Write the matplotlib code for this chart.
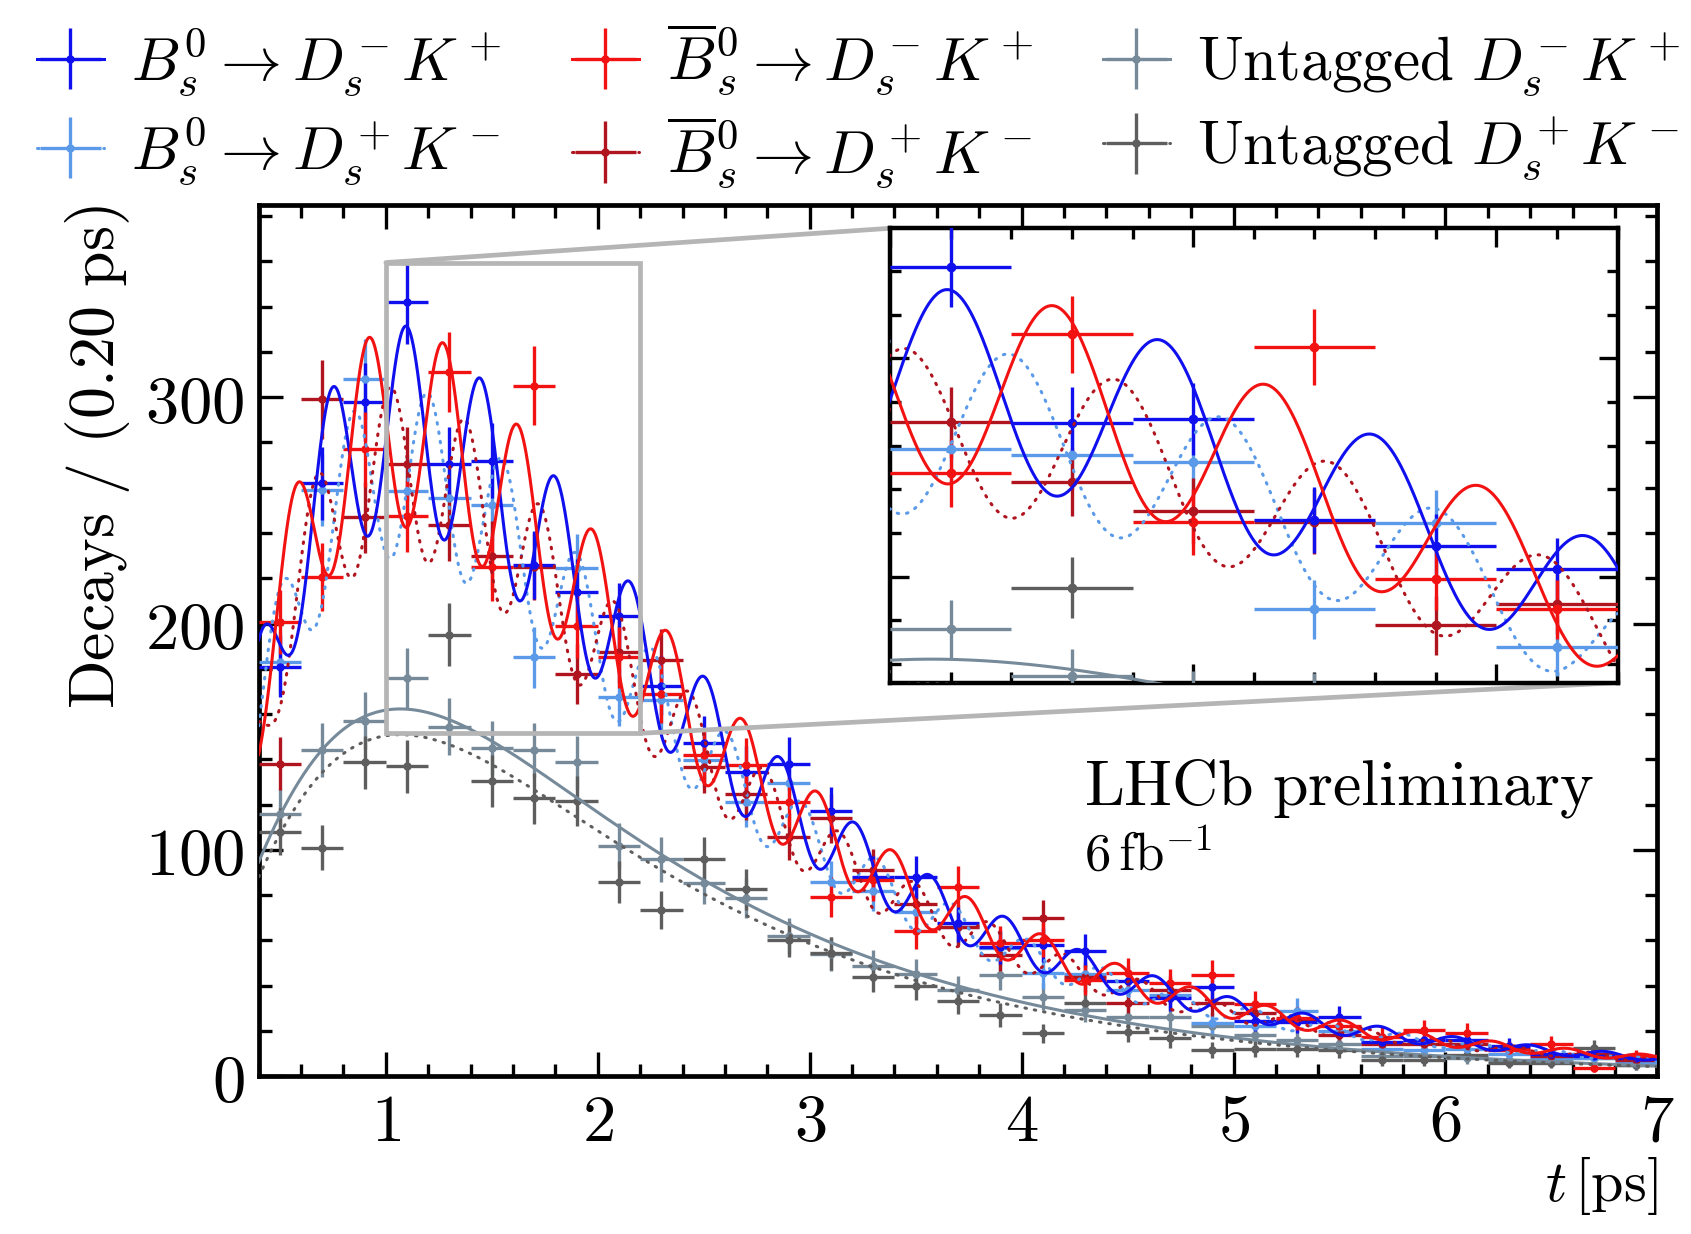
import numpy as np
import matplotlib
matplotlib.use("Agg")
import matplotlib.pyplot as plt
from matplotlib.ticker import MultipleLocator, FuncFormatter
from matplotlib.patches import Rectangle, ConnectionPatch

plt.rcParams['mathtext.fontset'] = 'cm'
plt.rcParams['font.family'] = ['DejaVu Serif']

# ---------------- data ----------------
t_centers = [0.5, 0.7, 0.9, 1.1, 1.3, 1.5, 1.7, 1.9, 2.1, 2.3, 2.5, 2.7, 2.9, 3.1, 3.3, 3.5, 3.7,
             3.9, 4.1, 4.3, 4.5, 4.7, 4.9, 5.1, 5.3, 5.5, 5.7, 5.9, 6.1, 6.3, 6.5, 6.7, 6.9]
bin_half_width = 0.1

bs_dmkp = [181, 262, 298, 342, 270.5, 272, 226, 214, 203.5, 172.5, 147, 134.5, 138, 117, 88, 88, 67.5,
           57, 58, 55.5, 42, 34.5, 39.5, 24.5, 24, 26, 15, 16, 16, 13.3, 10, 9, 8]
bs_dpkm = [183, 259, 308, 258.5, 255.5, 252.4, 185, 224.5, 167.6, 166, 139.7, 121.3, 129.4, 86, 82, 72.5, 66,
           56.5, 45.4, 45, 38, 36, 23.4, 22, 29, 20, 12, 11.6, 12, 10, 8, 8, 6]
bsbar_dmkp = [200.5, 220.6, 277, 247.5, 311, 225, 305, 199, 185, 169, 142, 137.5, 121.3, 79.3, 86.7, 64, 83.7,
              58.7, 60.2, 42.5, 45.4, 41, 44.7, 32, 25.6, 22, 17.4, 20.4, 19.2, 11.6, 14.2, 3.5, 8.8]
bsbar_dpkm = [138, 299, 247, 270.6, 243.4, 230, 225.2, 177.7, 187.4, 184, 136.7, 124.5, 105.8, 113.9, 91, 76, 66,
              53.5, 69.7, 44, 32.2, 38, 32.2, 28, 25, 18, 14, 14, 14, 12, 9, 10, 7]
untag_dmkp = [116, 144, 157, 176, 154.5, 145, 144, 138.7, 101.7, 95.8, 85.5, 78.6, 62, 54, 48.7, 45, 38,
              44.7, 35.1, 29.2, 26.3, 26.3, 22, 18, 16, 14, 9, 9, 8, 7.2, 6.5, 8, 5]
untag_dpkm = [108, 101, 138.6, 137, 195, 130.5, 122.7, 121.5, 86, 73.4, 95.8, 82.5, 60.2, 54.3, 44, 40, 33.4,
              27, 18.9, 32.2, 19.7, 16.7, 11.6, 12, 12, 11.6, 7, 7.2, 9.4, 6, 6, 12.6, 5]

x_ticks = [1, 2, 3, 4, 5, 6, 7]
y_ticks = [0, 100, 200, 300]

# fit-model parameters
TAU = 1.52          # ps
DM = 17.77          # ps^-1
ACC_T0 = 0.901
ACC_POWER = 1.42
NORM_UNTAG = 455.0
NORM_TAG = 805.0
RATIO_DPKM = 0.93
AMP_DMKP = 0.155
AMP_DPKM = 0.142
PHASE_DMKP = 0.61
PHASE_DPKM = 2.44

# ---------------- styles ----------------
C_BLUE = '#1010ee'
C_LBLUE = '#5a9ae8'
C_RED = '#f21212'
C_DRED = '#b0141e'
C_SLATE = '#768a9a'
C_DGRAY = '#5e5e5e'
FS = 46


def acceptance(t):
    return 1.0 - np.exp(-(t / ACC_T0) ** ACC_POWER)


def decay_model(t, norm, amp, phase):
    return norm * acceptance(t) * np.exp(-t / TAU) * (1.0 + amp * np.cos(DM * t - phase))


series = [
    # label, data, color, linestyle, norm, amp, phase
    (r"$B_s^0 \rightarrow D_s^- K^+$", bs_dmkp, C_BLUE, '-', NORM_TAG, AMP_DMKP, PHASE_DMKP),
    (r"$B_s^0 \rightarrow D_s^+ K^-$", bs_dpkm, C_LBLUE, ':', NORM_TAG * RATIO_DPKM, AMP_DPKM, PHASE_DPKM),
    (r"$\overline{B}_s^0 \rightarrow D_s^- K^+$", bsbar_dmkp, C_RED, '-', NORM_TAG, AMP_DMKP, PHASE_DMKP + np.pi),
    (r"$\overline{B}_s^0 \rightarrow D_s^+ K^-$", bsbar_dpkm, C_DRED, ':', NORM_TAG * RATIO_DPKM, AMP_DPKM, PHASE_DPKM + np.pi),
    (r"$\mathrm{Untagged}\ D_s^- K^+$", untag_dmkp, C_SLATE, '-', NORM_UNTAG, 0.0, 0.0),
    (r"$\mathrm{Untagged}\ D_s^+ K^-$", untag_dpkm, C_DGRAY, ':', NORM_UNTAG * RATIO_DPKM, 0.0, 0.0),
]
draw_order = [4, 5, 1, 3, 0, 2]

fig = plt.figure(figsize=(16.91, 12.34), dpi=100)
ax = fig.add_axes([0.1530, 0.1279, 0.8271, 0.7061])
axins = fig.add_axes([0.5263, 0.4468, 0.4303, 0.3682])

t_fine = np.linspace(0.4, 7.0, 3000)
handles = {}
for axis, ms in ((ax, 5), (axins, 6)):
    for i in draw_order:
        label, data, color, ls, norm, amp, phase = series[i]
        y = np.asarray(data, dtype=float)
        eb = axis.errorbar(t_centers, y, xerr=bin_half_width, yerr=np.sqrt(y), fmt='o', ms=ms,
                           color=color, ecolor=color, elinewidth=2.4, capsize=0, zorder=3)
        line, = axis.plot(t_fine, decay_model(t_fine, norm, amp, phase), color=color,
                          ls=ls, lw=2.2, zorder=4, dash_capstyle='round')
        if ls == ':':
            line.set_dashes((0.5, 2.6))
        if axis is ax:
            handles[i] = (line, eb)

fmt = FuncFormatter(lambda v, p: f"${v:g}$")

ax.set_xlim(0.4, 7.0)
ax.set_ylim(0, 385)
ax.set_xticks(x_ticks)
ax.set_yticks(y_ticks)
ax.xaxis.set_minor_locator(MultipleLocator(0.2))
ax.yaxis.set_minor_locator(MultipleLocator(20))
ax.xaxis.set_major_formatter(fmt)
ax.yaxis.set_major_formatter(fmt)
ax.tick_params(which='both', direction='in', top=True, right=True, width=2.4, labelsize=FS + 2)
ax.tick_params(which='major', length=17, pad=10)
ax.tick_params(which='minor', length=9)
for sp in ax.spines.values():
    sp.set_linewidth(3.4)

ax.set_xlabel(r"$t\,\mathrm{[ps]}$", fontsize=42, loc='right', labelpad=0)
ax.set_ylabel(r"$\mathrm{Decays\ /\ (0.20\ ps)}$", fontsize=FS, loc='top', labelpad=10)

ax.text(0.59, 0.312, r"$\mathrm{LHCb\ preliminary}$", transform=ax.transAxes, fontsize=FS)
ax.text(0.59, 0.236, r"$6\,\mathrm{fb}^{-1}$", transform=ax.transAxes, fontsize=38)

# inset
x0, x1, y0, y1 = 1.0, 2.2, 151.5, 359.5
axins.set_xlim(x0, x1)
axins.set_ylim(y0, y1)
axins.xaxis.set_major_locator(MultipleLocator(0.5))
axins.xaxis.set_minor_locator(MultipleLocator(0.1))
axins.yaxis.set_major_locator(MultipleLocator(100))
axins.yaxis.set_minor_locator(MultipleLocator(20))
axins.tick_params(which='both', direction='in', top=True, right=True, width=2.4,
                  labelbottom=False, labelleft=False)
axins.tick_params(which='major', length=14)
axins.tick_params(which='minor', length=8)
for sp in axins.spines.values():
    sp.set_linewidth(3.2)
axins.set_facecolor('white')
axins.set_zorder(5)

grey = '#b5b5b5'
ax.add_patch(Rectangle((x0, y0), x1 - x0, y1 - y0, fill=False, ec=grey, lw=3.4, zorder=5))
for (xa, ya) in ((x0, y1), (x1, y0)):
    con = ConnectionPatch(xyA=(xa, ya), coordsA=ax.transData, xyB=(xa, ya), coordsB=axins.transData,
                          color=grey, lw=3.4, zorder=4)
    fig.add_artist(con)

leg_order = [0, 1, 2, 3, 4, 5]
fig.legend([handles[i] for i in leg_order], [series[i][0] for i in leg_order],
           ncol=3, loc='upper left', bbox_to_anchor=(0.0, 1.012), frameon=False, fontsize=44,
           handlelength=1.1, handletextpad=0.45, columnspacing=1.15, labelspacing=0.28,
           borderaxespad=0.2)

fig.savefig('out.png', dpi=100)
